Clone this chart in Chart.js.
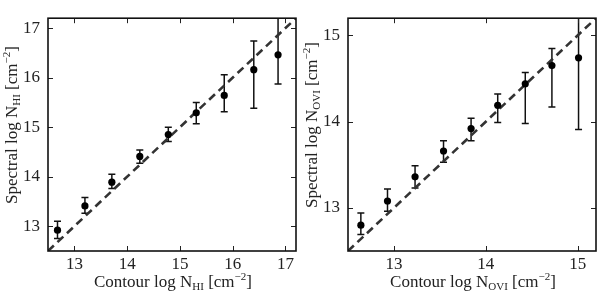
<!DOCTYPE html>
<html lang="en">
<head>
  <meta charset="UTF-8">
  <title>Spectral vs Contour column densities</title>
  <script src="https://cdn.jsdelivr.net/npm/chart.js"></script>
  <style>
    body {
      margin: 0;
      background: #fff;
    }
    #wrap {
      position: relative;
      width: 600px;
      height: 294px;
      overflow: hidden;
    }
    canvas {
      position: absolute;
      top: 0;
    }
    .xtitle, .ytitle {
      position: absolute;
      font-family: "Liberation Serif", serif;
      font-size: 17px;
      color: #222;
      white-space: nowrap;
      text-align: center;
      line-height: 20px;
      width: 260px;
    }
    .xtitle { top: 272px; }
    .ytitle { transform: rotate(-90deg); transform-origin: center center; top: 115px; }
    sub { font-size: 11px; vertical-align: -3px; line-height: 0; }
    sup { font-size: 11px; vertical-align: 7px; line-height: 0; }
  </style>
</head>
<body>

<div id="wrap">
  <canvas id="hiChart" width="300" height="294" style="left:0"></canvas>
  <canvas id="oviChart" width="300" height="294" style="left:300px"></canvas>

  <div class="xtitle" style="left:43px">Contour log N<sub>HI</sub> [cm<sup>&minus;2</sup>]</div>
  <div class="ytitle" style="left:-118px">Spectral log N<sub>HI</sub> [cm<sup>&minus;2</sup>]</div>

  <div class="xtitle" style="left:343px">Contour log N<sub>OVI</sub> [cm<sup>&minus;2</sup>]</div>
  <div class="ytitle" style="left:182px">Spectral log N<sub>OVI</sub> [cm<sup>&minus;2</sup>]</div>
</div>

<script>
// H I panel
const hiX     = [12.68, 13.20, 13.71, 14.24, 14.78, 15.31, 15.84, 16.40, 16.86];
const hiY     = [12.92, 13.41, 13.89, 14.41, 14.85, 15.29, 15.64, 16.16, 16.46];
const hiYLow  = [12.75, 13.26, 13.76, 14.27, 14.71, 15.07, 15.31, 15.38, 15.87];
const hiYHigh = [13.10, 13.58, 14.05, 14.54, 15.00, 15.50, 16.06, 16.74, 17.30];
const hiRange = [12.5, 17.2];
const hiTicks = [13, 14, 15, 16, 17];

// O VI panel
const oviX     = [12.64, 12.93, 13.23, 13.54, 13.84, 14.13, 14.43, 14.72, 15.01];
const oviY     = [12.80, 13.08, 13.36, 13.66, 13.92, 14.19, 14.44, 14.65, 14.74];
const oviYLow  = [12.69, 12.96, 13.23, 13.53, 13.78, 13.99, 13.98, 14.17, 13.91];
const oviYHigh = [12.94, 13.22, 13.49, 13.78, 14.04, 14.32, 14.57, 14.85, 15.30];
const oviRange = [12.5, 15.2];
const oviTicks = [13, 14, 15];

// error bars, drawn under the points
const errorBars = {
    id: 'errorBars',
    beforeDatasetsDraw(chart) {
        const ctx = chart.ctx;
        const area = chart.chartArea;
        const xs = chart.scales.x, ys = chart.scales.y;
        const ds = chart.data.datasets[0];
        ctx.save();
        ctx.beginPath();
        ctx.rect(area.left, area.top, area.right - area.left, area.bottom - area.top);
        ctx.clip();
        ctx.strokeStyle = '#111';
        ctx.lineWidth = 1.5;
        ds.data.forEach((p, i) => {
            const px = xs.getPixelForValue(p.x);
            const lo = ys.getPixelForValue(ds.yLow[i]);
            const hi = ys.getPixelForValue(ds.yHigh[i]);
            ctx.beginPath();
            ctx.moveTo(px, lo); ctx.lineTo(px, hi);
            ctx.moveTo(px - 3.5, lo); ctx.lineTo(px + 3.5, lo);
            ctx.moveTo(px - 3.5, hi); ctx.lineTo(px + 3.5, hi);
            ctx.stroke();
        });
        ctx.restore();
    }
};

// frame plus inward ticks on all four sides
const frameTicks = {
    id: 'frameTicks',
    afterDraw(chart) {
        const ctx = chart.ctx;
        const a = chart.chartArea;
        const xs = chart.scales.x, ys = chart.scales.y;
        ctx.save();
        ctx.strokeStyle = '#222';
        ctx.lineWidth = 1;
        ctx.beginPath();
        xs.ticks.forEach(t => {
            const px = Math.round(xs.getPixelForValue(t.value)) + 0.5;
            ctx.moveTo(px, a.bottom); ctx.lineTo(px, a.bottom - 5);
            ctx.moveTo(px, a.top); ctx.lineTo(px, a.top + 5);
        });
        ys.ticks.forEach(t => {
            const py = Math.round(ys.getPixelForValue(t.value)) + 0.5;
            ctx.moveTo(a.left, py); ctx.lineTo(a.left + 5, py);
            ctx.moveTo(a.right, py); ctx.lineTo(a.right - 5, py);
        });
        ctx.stroke();
        ctx.strokeStyle = '#111';
        ctx.lineWidth = 1.6;
        ctx.strokeRect(a.left, a.top, a.right - a.left, a.bottom - a.top);
        ctx.restore();
    }
};

function makeChart(id, xVals, yVals, yLow, yHigh, range, ticks) {
    const points = xVals.map((x, i) => ({ x: x, y: yVals[i] }));
    const tickFont = { family: 'Liberation Serif', size: 17 };
    return new Chart(document.getElementById(id), {
        type: 'scatter',
        data: {
            datasets: [{
                data: points,
                yLow: yLow,
                yHigh: yHigh,
                pointRadius: 3.6,
                pointBackgroundColor: '#000',
                pointBorderWidth: 0
            }, {
                type: 'line',
                data: [{ x: range[0], y: range[0] }, { x: range[1], y: range[1] }],
                borderColor: '#333',
                borderWidth: 2.6,
                borderDash: [8, 5],
                pointRadius: 0
            }]
        },
        options: {
            responsive: false,
            animation: false,
            devicePixelRatio: 1,
            layout: { padding: { top: 2, right: 2, left: 0, bottom: 0 } },
            plugins: { legend: { display: false }, tooltip: { enabled: false } },
            scales: {
                x: {
                    type: 'linear',
                    min: range[0],
                    max: range[1],
                    grid: { display: false, drawTicks: false },
                    border: { display: false },
                    ticks: { font: tickFont, color: '#222', padding: 3 },
                    afterBuildTicks: s => { s.ticks = ticks.map(v => ({ value: v })); },
                    afterFit: s => { s.height = 43; }
                },
                y: {
                    type: 'linear',
                    min: range[0],
                    max: range[1],
                    grid: { display: false, drawTicks: false },
                    border: { display: false },
                    ticks: { font: tickFont, color: '#222', padding: 8 },
                    afterBuildTicks: s => { s.ticks = ticks.map(v => ({ value: v })); },
                    afterFit: s => { s.width = 48; }
                }
            }
        },
        plugins: [errorBars, frameTicks]
    });
}

makeChart('hiChart', hiX, hiY, hiYLow, hiYHigh, hiRange, hiTicks);
makeChart('oviChart', oviX, oviY, oviYLow, oviYHigh, oviRange, oviTicks);
</script>

</body>
</html>
